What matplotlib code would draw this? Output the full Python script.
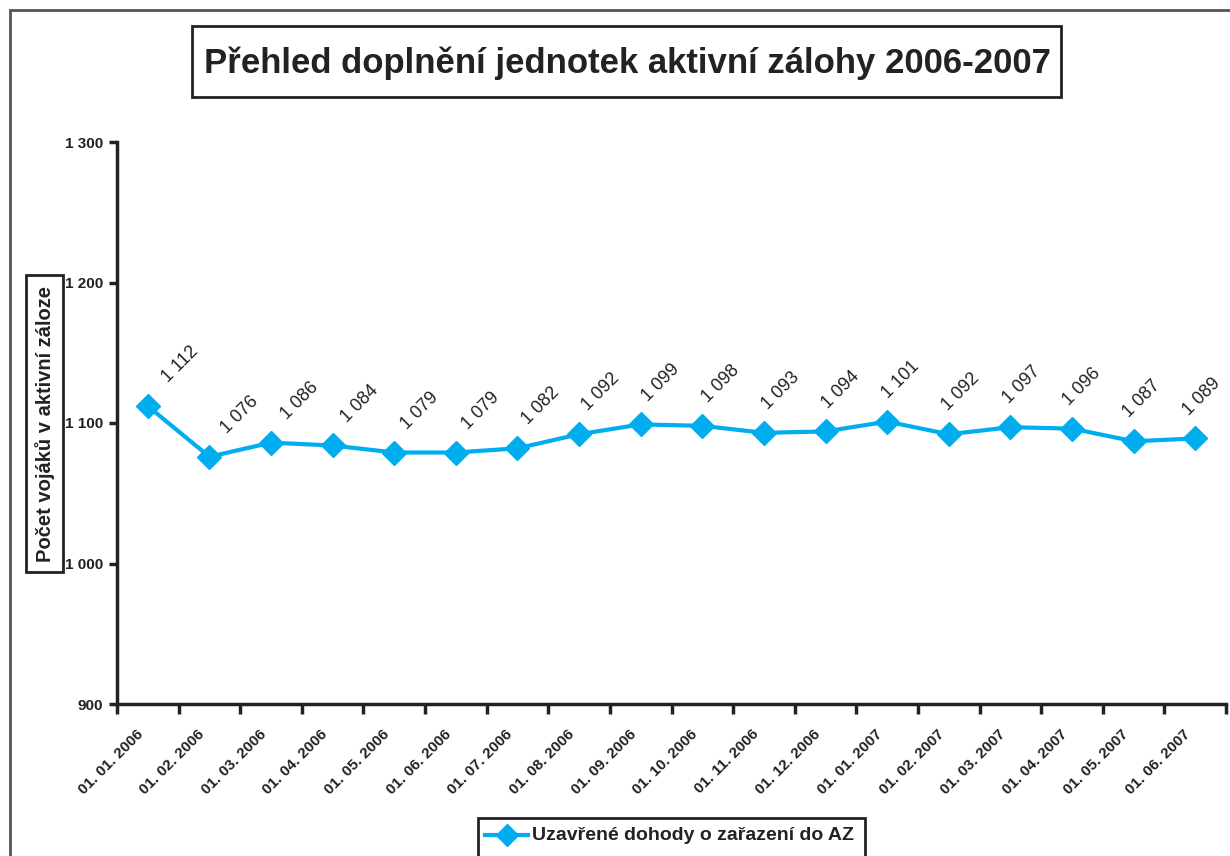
import numpy as np
import matplotlib
matplotlib.use("Agg")
import matplotlib.pyplot as plt
from matplotlib.patches import Rectangle
from matplotlib.lines import Line2D
from matplotlib.ticker import FuncFormatter
from matplotlib.transforms import ScaledTranslation

plt.rcParams['font.family'] = ['Liberation Sans', 'DejaVu Sans']

# data
dates = ["01. 01. 2006", "01. 02. 2006", "01. 03. 2006", "01. 04. 2006",
         "01. 05. 2006", "01. 06. 2006", "01. 07. 2006", "01. 08. 2006",
         "01. 09. 2006", "01. 10. 2006", "01. 11. 2006", "01. 12. 2006",
         "01. 01. 2007", "01. 02. 2007", "01. 03. 2007", "01. 04. 2007",
         "01. 05. 2007", "01. 06. 2007"]
counts = [1112, 1076, 1086, 1084, 1079, 1079, 1082, 1092, 1099,
          1098, 1093, 1094, 1101, 1092, 1097, 1096, 1087, 1089]
y_ticks = [900, 1000, 1100, 1200, 1300]

title = "Přehled doplnění jednotek aktivní zálohy 2006-2007"
y_label = "Počet vojáků v aktivní záloze"
series_name = "Uzavřené dohody o zařazení do AZ"

blue = "#00aeef"
dark = "#222222"

W, H = 1230, 856


def space_thousands(v, pos=None):
    return "{:,}".format(int(v)).replace(",", " ")


def fx(px):
    return px / W


def fy(py):
    return 1 - py / H


def box(x0, y0, x1, y1, **kw):
    """rectangle in figure pixels, measured from the top-left corner"""
    fig.patches.append(Rectangle((fx(x0), fy(y1)), fx(x1 - x0),
                                 (y1 - y0) / H, transform=fig.transFigure,
                                 fill=False, **kw))


fig = plt.figure(figsize=(W / 100, H / 100), dpi=100)

# outer frame (runs off the right and bottom edges)
box(10, 10, 1300, 900, edgecolor="#555555", linewidth=2)

ax = fig.add_axes([fx(117), fy(704), fx(1226 - 117), (704 - 142) / H])

x = np.arange(len(dates))
ax.plot(x, counts, color=blue, linewidth=3, marker="D", markersize=12.5,
        markeredgecolor=blue, clip_on=False, zorder=3)

# value labels drift slightly left across the chart, like in the original
for xi, v in zip(x, counts):
    ax.annotate(space_thousands(v), (xi, v), xytext=(32 - 1.5 * xi, 42),
                textcoords="offset pixels", rotation=45,
                rotation_mode="anchor", ha="center", va="center",
                fontsize=13, color=dark)

ax.set_xlim(-0.5, len(dates) - 0.5)
ax.set_ylim(y_ticks[0], y_ticks[-1])
ax.set_yticks(y_ticks)
ax.yaxis.set_major_formatter(FuncFormatter(space_thousands))

ax.set_xticks(x)
ax.set_xticklabels(dates, rotation=45, ha="right", va="center",
                   rotation_mode="anchor", fontsize=11, fontweight="bold",
                   color=dark)
ax.set_xticks(np.arange(-0.5, len(dates)), minor=True)
ax.tick_params(axis="x", which="major", length=0, pad=20)
ax.tick_params(axis="x", which="minor", length=7, width=2.5, color=dark,
               direction="out")
ax.tick_params(axis="y", length=6, width=2.5, color=dark, pad=4,
               labelsize=11, labelcolor=dark)
for lab in ax.get_yticklabels():
    lab.set_fontweight("bold")

# nudge the date labels a little left (after tick_params, which resets them)
shift = ScaledTranslation(-7 / 100, 0, fig.dpi_scale_trans)
for lab in ax.get_xticklabels():
    lab.set_transform(lab.get_transform() + shift)

for side in ("top", "right"):
    ax.spines[side].set_visible(False)
for side in ("left", "bottom"):
    ax.spines[side].set_linewidth(2.5)
    ax.spines[side].set_color(dark)

# title box
box(192, 26, 1061, 97, edgecolor=dark, linewidth=2)
fig.text(fx(627), fy(63), title, ha="center", va="center",
         fontsize=25, fontweight="bold", color=dark)

# y label box
box(26, 275, 63, 572, edgecolor=dark, linewidth=2)
fig.text(fx(45), fy(424), y_label, ha="center", va="center",
         rotation=90, fontsize=14.5, fontweight="bold", color=dark)

# legend, drawn by hand so the frame can run off the bottom edge
box(478, 818, 865, 880, edgecolor=dark, linewidth=2)
fig.lines.append(Line2D([fx(485), fx(528)], [fy(835), fy(835)],
                        transform=fig.transFigure, color=blue, linewidth=3))
fig.lines.append(Line2D([fx(506.5)], [fy(835)], transform=fig.transFigure,
                        color=blue, marker="D", markersize=11,
                        linestyle="none"))
fig.text(fx(532), fy(835), series_name, ha="left", va="center",
         fontsize=14, fontweight="bold", color=dark)

fig.savefig("out.png", dpi=100)
